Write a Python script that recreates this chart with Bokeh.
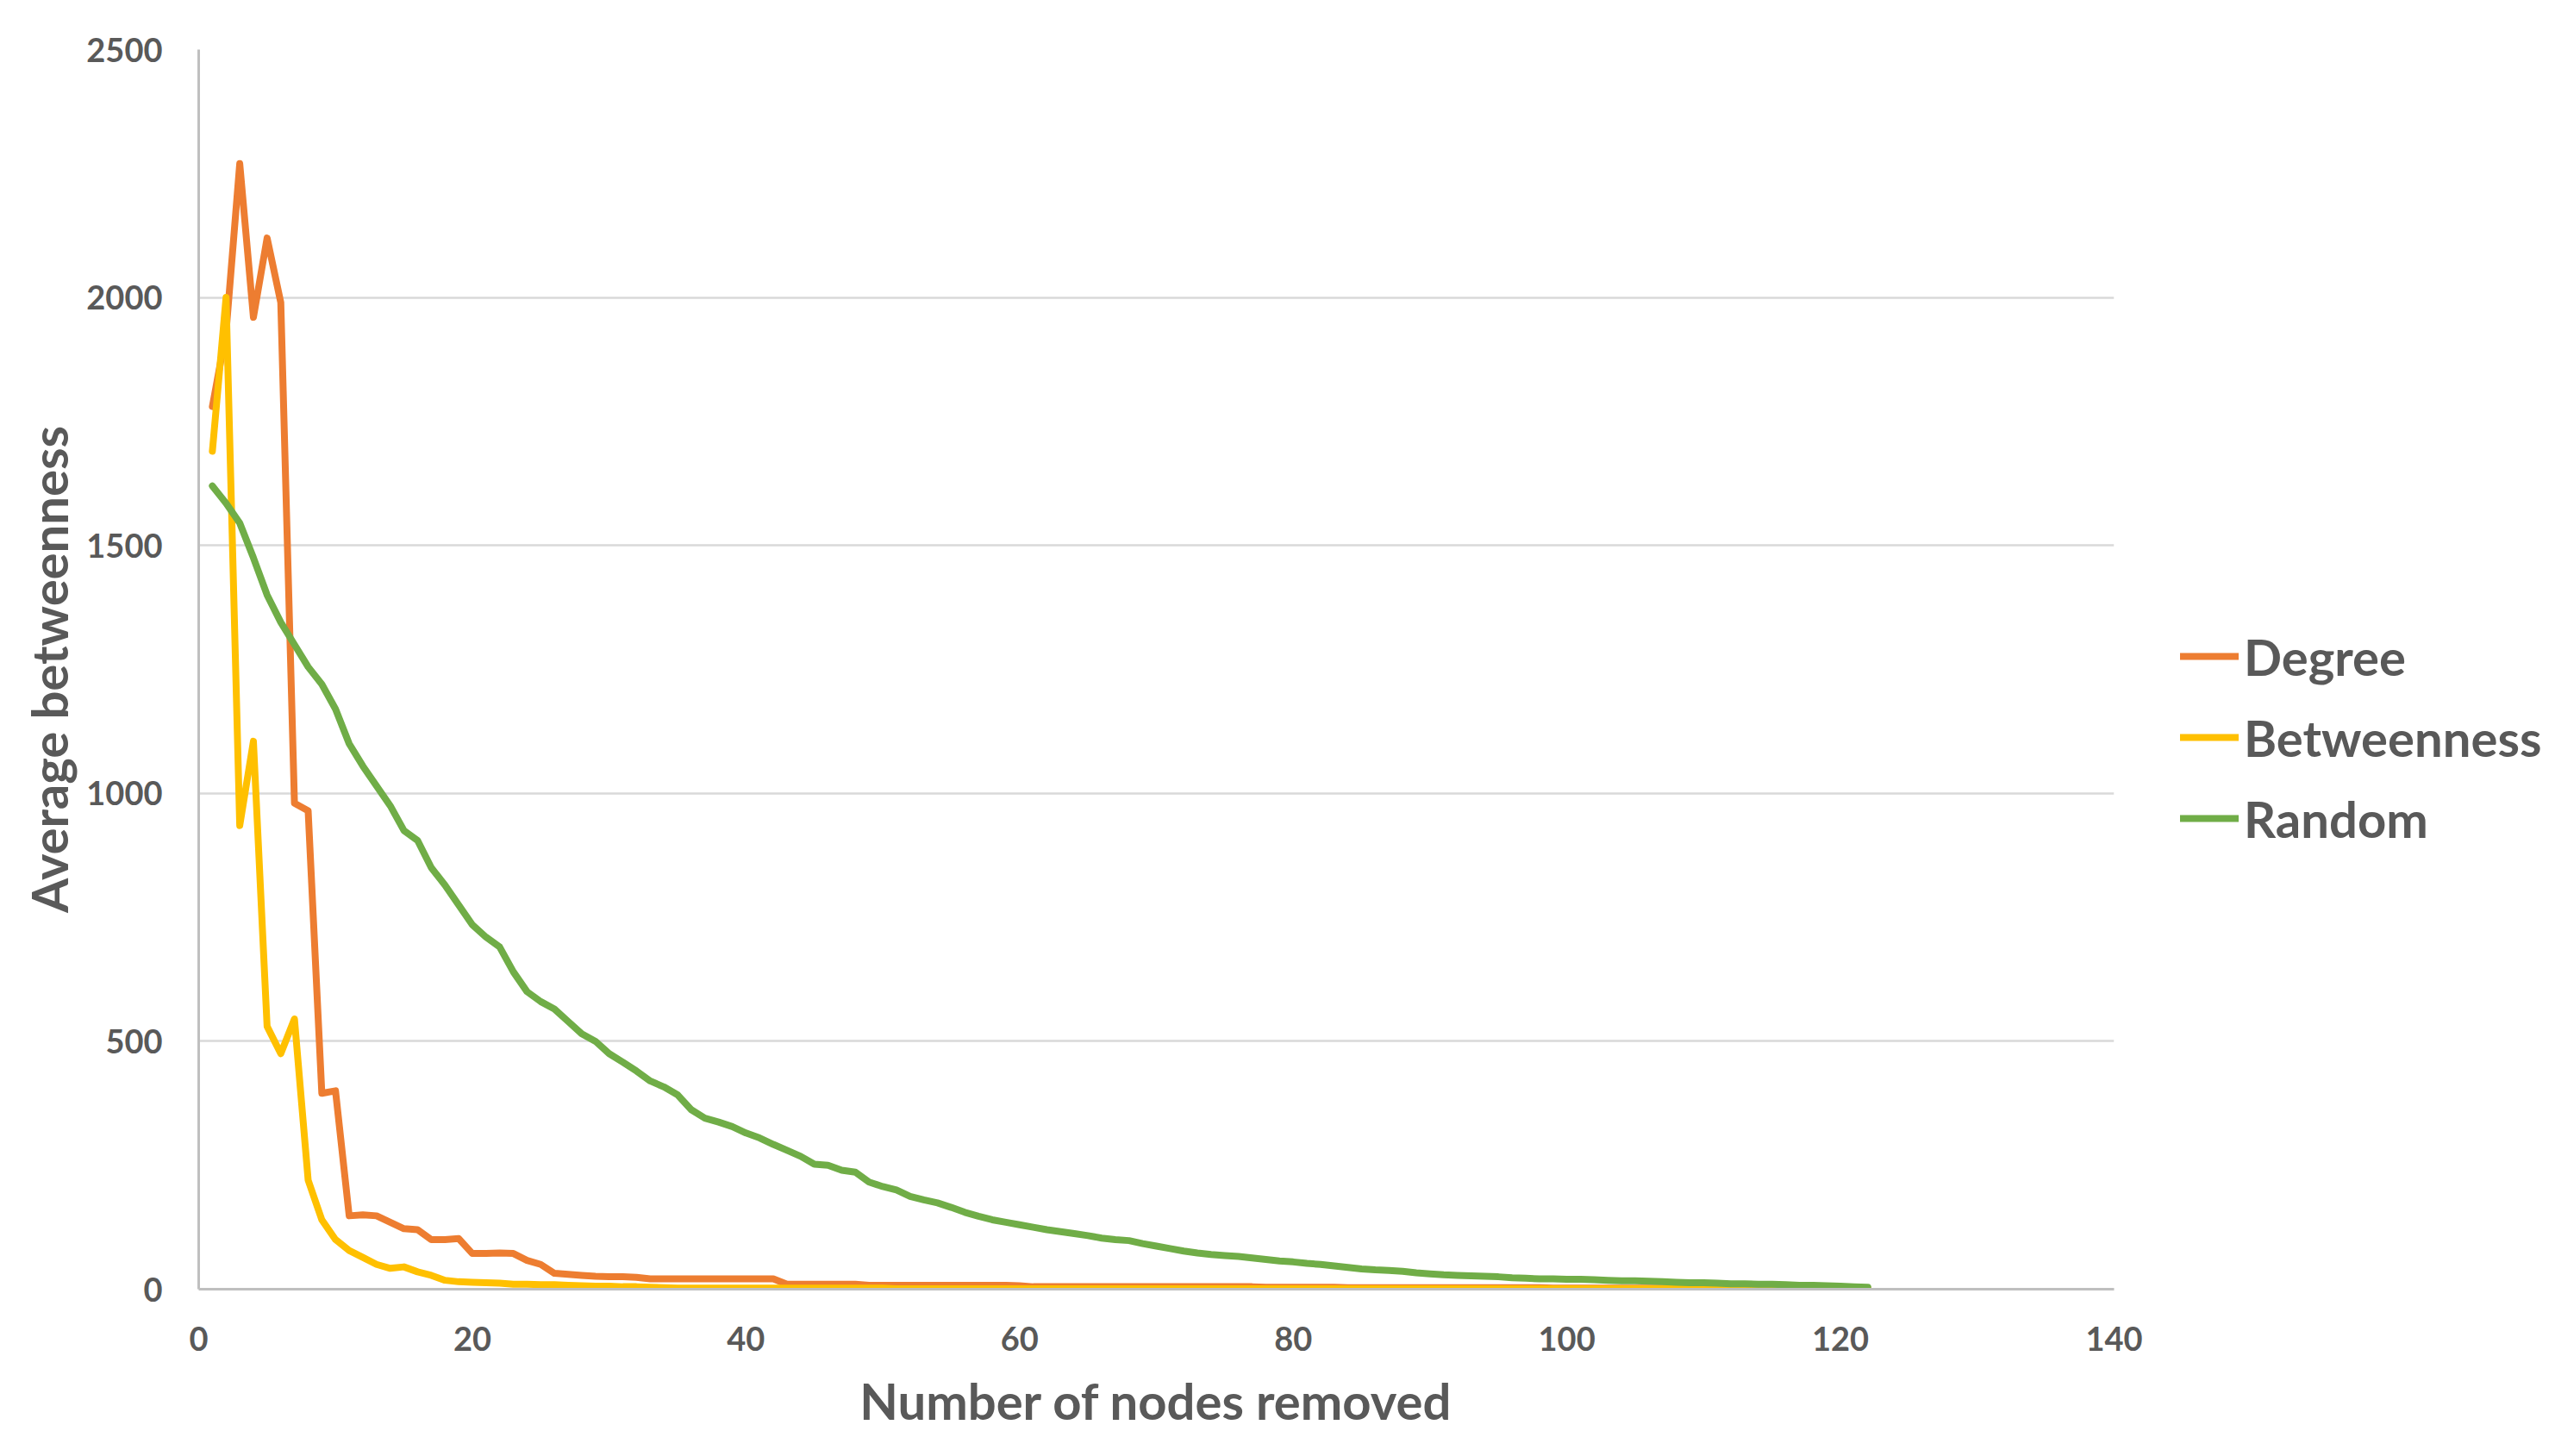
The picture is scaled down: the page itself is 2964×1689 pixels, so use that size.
from bokeh.plotting import figure
from bokeh.models import Range1d, Legend, LegendItem, ColumnDataSource
from bokeh.layouts import row
from bokeh.embed import file_html
from bokeh.resources import INLINE

# ---- data ----
nodes_removed = list(range(1, 123))

degree = [1780, 1930, 2270, 1960, 2120, 1990, 980, 965, 395, 400,
          148, 150, 148, 135, 122, 120, 100, 100, 102, 72,
          72, 73, 72, 58, 50, 32, 30, 28, 26, 25,
          25, 24, 21, 21, 21, 21, 21, 21, 21, 21,
          21, 21, 10, 10, 10, 10, 10, 10, 8, 8,
          8, 8, 8, 8, 8, 8, 8, 8, 8, 7,
          5, 5, 5, 5, 5, 5, 5, 5, 5, 5,
          5, 5, 5, 5, 5, 5, 5, 4, 4, 4,
          4, 4, 4, 3, 3, 3, 3, 3, 3, 3,
          3, 3, 3, 3, 3, 3, 3, 3, 2, 2,
          2, 2, 2, 2, 2, 2, 2, 2, 2, 2,
          2, 2, 2, 2, 2, 2, 2, 2, 2, 2,
          2, 2]

betweenness = [1690, 2000, 935, 1105, 530, 475, 545, 220, 140, 100,
               78, 64, 50, 42, 45, 35, 28, 18, 15, 14,
               13, 12, 10, 10, 9, 9, 8, 7, 6, 6,
               5, 5, 4, 3, 2, 2, 2, 2, 2, 2,
               2, 2, 2, 2, 2, 2, 2, 2, 2, 2,
               1, 1, 1, 1, 1, 1, 1, 1, 1, 1,
               1, 1, 1, 1, 1, 1, 1, 1, 1, 1,
               1, 1, 1, 1, 1, 1, 1, 1, 1, 1,
               1, 1, 1, 1, 1, 1, 1, 1, 1, 1,
               1, 1, 1, 1, 1, 1, 1, 1, 1, 1,
               1, 1, 1, 1, 1, 1, 1, 1, 1, 1,
               1, 1, 1, 1, 1, 1, 1, 1, 1, 1,
               1, 1]

random_removal = [1620, 1585, 1545, 1475, 1400, 1345, 1300, 1255, 1220, 1170,
                  1100, 1055, 1015, 975, 925, 905, 850, 815, 775, 735,
                  710, 690, 640, 600, 580, 565, 540, 515, 500, 475,
                  458, 440, 420, 408, 392, 362, 345, 337, 328, 315,
                  305, 292, 280, 268, 252, 250, 240, 236, 216, 207,
                  200, 187, 180, 174, 165, 155, 147, 140, 135, 130,
                  125, 120, 116, 112, 108, 103, 100, 98, 92, 87,
                  82, 77, 73, 70, 68, 66, 63, 60, 57, 55,
                  52, 50, 47, 44, 41, 39, 38, 36, 33, 31,
                  29, 28, 27, 26, 25, 23, 22, 21, 21, 20,
                  20, 19, 18, 17, 17, 16, 15, 14, 13, 13,
                  12, 11, 11, 10, 10, 9, 8, 8, 7, 6,
                  5, 4]

series_names = ["Degree", "Betweenness", "Random"]
series_colors = ["#ED7D31", "#FFC000", "#70AD47"]

x_ticks = [0, 20, 40, 60, 80, 100, 120, 140]
y_ticks = [0, 500, 1000, 1500, 2000, 2500]

FONT = "Lato"
TXT = "#595959"

W_MAIN, W_LEG, H = 2500, 448, 1681

# ---- main chart ----
p = figure(width=W_MAIN, height=H, output_backend="svg", toolbar_location=None,
           x_range=Range1d(0, 140), y_range=Range1d(0, 2500))
p.min_border_left = 230
p.min_border_right = W_MAIN - 2452
p.min_border_top = 57
p.min_border_bottom = H - 1495
p.outline_line_color = None
p.background_fill_color = "white"

src = ColumnDataSource(dict(x=nodes_removed, deg=degree, btw=betweenness, rnd=random_removal))
cols = ["deg", "btw", "rnd"]
for col, color in zip(cols, series_colors):
    p.line("x", col, source=src, line_color=color, line_width=8,
           line_join="round", line_cap="round")

p.xaxis.ticker = x_ticks
p.yaxis.ticker = y_ticks
for ax in (p.xaxis, p.yaxis):
    ax.axis_line_color = "#BFBFBF"
    ax.axis_line_width = 3
    ax.major_tick_line_color = None
    ax.minor_tick_line_color = None
    ax.major_tick_out = 0
    ax.major_tick_in = 0
    ax.major_label_text_font = FONT
    ax.major_label_text_font_style = "bold"
    ax.major_label_text_font_size = "38px"
    ax.major_label_text_color = TXT
    ax.axis_label_text_font = FONT
    ax.axis_label_text_font_style = "bold"
    ax.axis_label_text_font_size = "58px"
    ax.axis_label_text_color = TXT

p.xaxis.axis_label = "Number of nodes removed"
p.yaxis.axis_label = "Average betweenness"
p.xaxis.major_label_standoff = 43
p.yaxis.major_label_standoff = 42
p.xaxis.axis_label_standoff = 20
p.yaxis.axis_label_standoff = 6

p.xgrid.grid_line_color = None
p.ygrid.grid_line_color = "#D9D9D9"
p.ygrid.grid_line_width = 2.5

# ---- legend panel (separate figure to the right; same series, view range kept empty) ----
pl = figure(width=W_LEG, height=H, output_backend="svg", toolbar_location=None,
            x_axis_location=None, y_axis_location=None,
            x_range=Range1d(-2, -1), y_range=Range1d(-2, -1))
pl.min_border_left = 0
pl.min_border_right = 0
pl.min_border_top = 0
pl.min_border_bottom = 0
pl.outline_line_color = None
pl.xgrid.grid_line_color = None
pl.ygrid.grid_line_color = None

leg_renderers = []
for col, color in zip(cols, series_colors):
    r = pl.line("x", col, source=src, line_color=color, line_width=8, line_cap="round")
    leg_renderers.append(r)

legend = Legend(items=[LegendItem(label=n, renderers=[r]) for n, r in zip(series_names, leg_renderers)],
                location=(29, 511))
legend.border_line_color = None
legend.background_fill_alpha = 0
legend.padding = 0
legend.margin = 0
legend.spacing = 24
legend.glyph_width = 68
legend.glyph_height = 70
legend.label_height = 70
legend.label_standoff = 6
legend.label_text_font = FONT
legend.label_text_font_style = "bold"
legend.label_text_font_size = "58px"
legend.label_text_color = TXT
pl.add_layout(legend, "center")

open("out.html", "w").write(file_html(row(p, pl), INLINE))
